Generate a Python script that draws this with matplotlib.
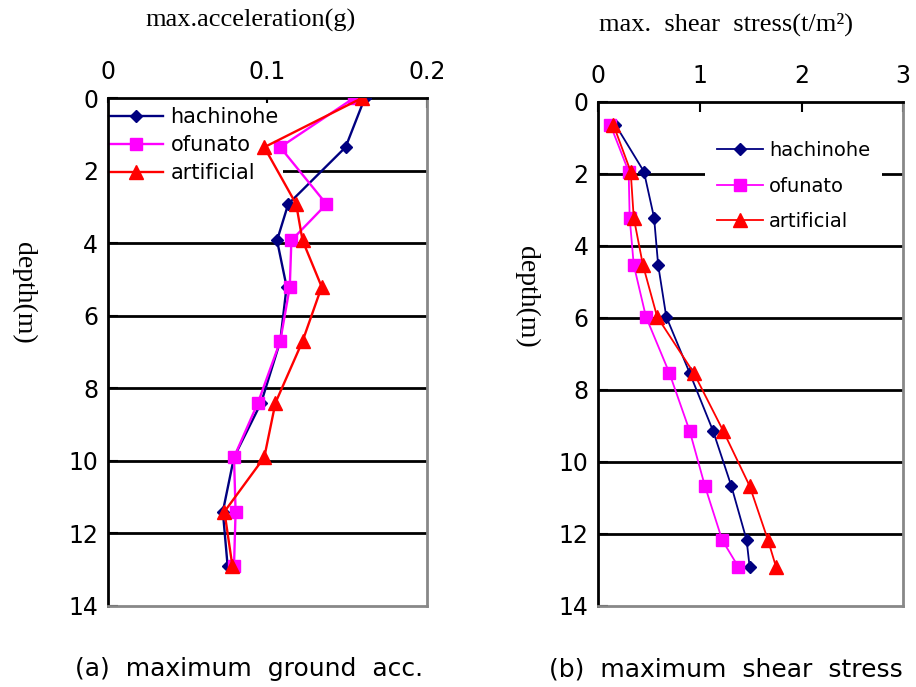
import matplotlib
matplotlib.use("Agg")
import matplotlib.pyplot as plt

# ---- data ----
depth_acc = [0.0, 1.35, 2.92, 3.92, 5.2, 6.7, 8.4, 9.9, 11.4, 12.9]
acc_hachinohe = [0.161, 0.149, 0.113, 0.106, 0.112, 0.108, 0.096, 0.079, 0.072, 0.075]
acc_ofunato = [0.154, 0.108, 0.137, 0.115, 0.114, 0.108, 0.094, 0.079, 0.080, 0.079]
acc_artificial = [0.159, 0.098, 0.118, 0.122, 0.134, 0.122, 0.105, 0.098, 0.073, 0.078]

depth_tau = [0.64, 1.94, 3.22, 4.53, 5.97, 7.53, 9.14, 10.67, 12.17, 12.92]
tau_hachinohe = [0.17, 0.45, 0.55, 0.59, 0.67, 0.90, 1.13, 1.31, 1.46, 1.49]
tau_ofunato = [0.12, 0.30, 0.31, 0.35, 0.47, 0.70, 0.90, 1.05, 1.22, 1.38]
tau_artificial = [0.15, 0.32, 0.35, 0.44, 0.58, 0.94, 1.23, 1.49, 1.67, 1.75]

series_names = ["hachinohe", "ofunato", "artificial"]
acc_ticks = [0, 0.1, 0.2]
acc_ticklabels = ["0", "0.1", "0.2"]
tau_ticks = [0, 1, 2, 3]
depth_ticks = [0, 2, 4, 6, 8, 10, 12, 14]

styles = [
    dict(color="#000080", marker="D", markersize=6.5),
    dict(color="#FF00FF", marker="s", markersize=9),
    dict(color="#FF0000", marker="^", markersize=9.5),
]

SANS = ["DejaVu Sans"]
SERIF = ["Liberation Serif", "DejaVu Serif"]

fig = plt.figure(figsize=(9.16, 6.87), dpi=100)
axL = fig.add_axes([0.118, 0.118, 0.348, 0.739])
axR = fig.add_axes([0.653, 0.118, 0.333, 0.734])


def style_axes(ax, xlim, xticks, xticklabels):
    ax.set_xlim(*xlim)
    ax.set_ylim(14, 0)
    ax.xaxis.tick_top()
    ax.set_xticks(xticks)
    ax.set_xticklabels(xticklabels)
    ax.set_yticks(depth_ticks)
    ax.tick_params(axis="both", direction="in", length=7, width=1.5,
                   labelsize=17, colors="black")
    ax.tick_params(axis="x", pad=10)
    ax.tick_params(axis="y", pad=7)
    for lab in ax.get_xticklabels() + ax.get_yticklabels():
        lab.set_fontfamily(SANS)
    for y in depth_ticks[1:-1]:
        ax.axhline(y, color="black", lw=2, zorder=1)
    ax.spines["left"].set_color("black")
    ax.spines["top"].set_color("black")
    ax.spines["right"].set_color("#888888")
    ax.spines["bottom"].set_color("#888888")
    for s in ax.spines.values():
        s.set_linewidth(2)


for vals, st, name in zip([acc_hachinohe, acc_ofunato, acc_artificial], styles, series_names):
    axL.plot(vals, depth_acc, lw=1.7, label=name, zorder=3, **st)
style_axes(axL, (0, 0.2), acc_ticks, acc_ticklabels)
legL = axL.legend(loc="upper left", bbox_to_anchor=(-0.01, 0.99), frameon=True,
                  framealpha=1, edgecolor="none", fancybox=False,
                  prop=dict(family=SANS, size=15), handlelength=2.6,
                  handletextpad=0.35, labelspacing=0.38, borderpad=0.2,
                  borderaxespad=0.0)
legL.set_zorder(2)

for vals, st, name in zip([tau_hachinohe, tau_ofunato, tau_artificial], styles, series_names):
    axR.plot(vals, depth_tau, lw=1.3, label=name, zorder=3, **st)
style_axes(axR, (0, 3), tau_ticks, [str(t) for t in tau_ticks])
legR = axR.legend(loc="upper left", bbox_to_anchor=(0.35, 0.945), frameon=True,
                  framealpha=1, edgecolor="none", fancybox=False,
                  prop=dict(family=SANS, size=14), handlelength=2.4,
                  handletextpad=0.3, labelspacing=0.85, borderpad=0.6,
                  borderaxespad=0.0)
legR.set_zorder(2)

# axis titles (serif) placed like the reference
fig.text(0.273, 0.970, "max.acceleration(g)", ha="center", va="center",
         fontsize=19, fontfamily=SERIF)
fig.text(0.793, 0.964, "max.  shear  stress(t/m²)", ha="center", va="center",
         fontsize=19, fontfamily=SERIF)
fig.text(0.026, 0.574, "depth(m)", ha="center", va="center", rotation=-90,
         fontsize=20, fontfamily=SERIF)
fig.text(0.575, 0.568, "depth(m)", ha="center", va="center", rotation=-90,
         fontsize=20, fontfamily=SERIF)

fig.text(0.272, 0.026, "(a)  maximum  ground  acc.", ha="center", va="center",
         fontsize=18, fontfamily=SANS)
fig.text(0.792, 0.026, "(b)  maximum  shear  stress", ha="center", va="center",
         fontsize=18, fontfamily=SANS)

fig.savefig("out.png", dpi=100)
